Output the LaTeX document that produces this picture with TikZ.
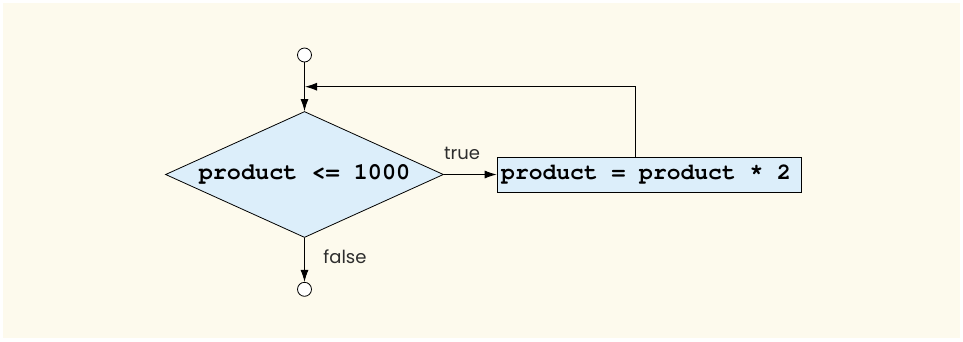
\documentclass[tikz,border=0pt]{standalone}
\usepackage{fontspec}
\setmonofont{TeX Gyre Cursor}
\setsansfont{Poppins}
\usetikzlibrary{shapes.geometric,arrows.meta}
\definecolor{bgcream}{RGB}{253,250,237}
\definecolor{boxblue}{RGB}{220,238,250}
\definecolor{labelgray}{RGB}{45,45,45}
\tikzset{
  conn/.style={draw=black, line width=0.9pt, -{Latex[length=12pt,width=8pt]}},
  endcircle/.style={circle, draw=black, line width=0.8pt, fill=white, minimum size=14pt, inner sep=0pt},
  decision/.style={diamond, draw=black, line width=0.8pt, fill=boxblue, minimum width=278pt, minimum height=126pt, aspect=2.2, inner sep=0pt, font=\ttfamily\bfseries\fontsize{23.5pt}{26pt}\selectfont},
  action/.style={rectangle, draw=black, line width=0.8pt, fill=boxblue, minimum height=35pt, minimum width=304pt, inner sep=0pt, font=\ttfamily\bfseries\fontsize{23pt}{26pt}\selectfont},
  lbl/.style={font=\sffamily\fontsize{18pt}{20pt}\selectfont, text=labelgray, inner sep=0pt}
}
\begin{document}
\begin{tikzpicture}[x=1pt,y=-1pt]
\useasboundingbox (0,0) rectangle (963,341);
\fill[white] (0,0) rectangle (963,341);
\fill[bgcream] (3,3) rectangle (960,338);
\node[endcircle] (start) at (304.5,55) {};
\node[decision] (dec) at (304.5,174.5) {product~<=~1000};
\node[action, anchor=west] (act) at (496.7,174.5) {\hspace*{-6pt}product~=~product~*~2};
\node[endcircle] (stop) at (304.5,289.3) {};
\coordinate (fbtop) at (635.7,86.7);
\coordinate (join) at (305,86.7);
\draw[conn] (start) -- (dec.north);
\draw[conn] (dec.east) -- (act.west);
\draw[conn] (dec.south) -- (stop);
\draw[conn] (act.north -| fbtop) -- (fbtop) -- (join);
\node[lbl] (tlbl) at (462,153) {true};
\node[lbl] (flbl) at (345,257) {false};
\end{tikzpicture}
\end{document}
